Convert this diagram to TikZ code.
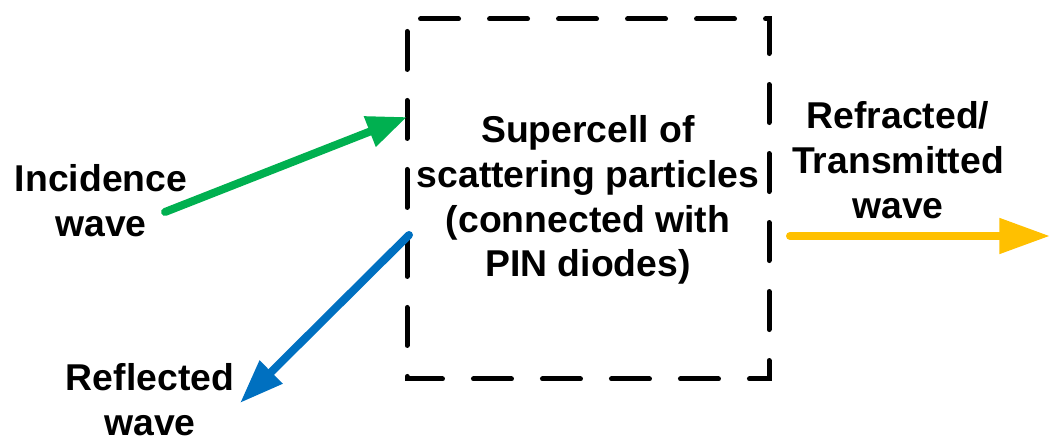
\documentclass[tikz,border=0pt]{standalone}
\usepackage{fontspec}
\setmainfont{Liberation Sans}
\usetikzlibrary{arrows.meta}
\definecolor{wgreen}{HTML}{00B050}
\definecolor{wblue}{HTML}{0070C0}
\definecolor{wgold}{HTML}{FFC000}
\begin{document}
\begin{tikzpicture}[x=0.75pt,y=-0.75pt,
  lbl/.style={font=\fontsize{28}{33.6}\selectfont\bfseries, align=center, inner sep=0pt},
  wavearrow/.style={line width=6pt, line cap=round},
  cellbox/.style={draw, line width=3.75pt, line cap=round,
    dash pattern=on 28.5pt off 23.25pt, dash phase=41.6pt}]
\useasboundingbox (0,0) rectangle (1057,441);

% dashed supercell outline, drawn clockwise from its top-left corner
\coordinate (cellNW) at (407,19);
\coordinate (cellSE) at (769,379);
\draw[cellbox] (cellNW) -- (cellSE |- cellNW) -- (cellSE) -- (cellNW |- cellSE) -- cycle;
\node[lbl] (cell) at (588,200) {Supercell of\\scattering particles\\(connected with\\PIN diodes)};

% wave labels
\node[lbl] (inc)   at (101,201) {Incidence\\wave};
\node[lbl] (refl)  at (150,400) {Reflected\\wave};
\node[lbl] (trans) at (898,160) {Refracted/\\Transmitted\\wave};

% arrow end points
\coordinate (incTail)   at (165,212);
\coordinate (incHit)    at (407,117);
\coordinate (reflStart) at (409,235);
\coordinate (reflTip)   at (240,403);
\coordinate (transTail) at (790,236);
\coordinate (transTip)  at (1050,236);

\draw[wavearrow, wgreen, -{Triangle[length=30pt,width=23pt]}] (incTail) -- (incHit);
\draw[wavearrow, wblue, -{Triangle[length=33pt,width=23pt]}] (reflStart) -- (reflTip);
\draw[wavearrow, wgold, -{Triangle[length=38pt,width=25.5pt]}] (transTail) -- (transTip);
\end{tikzpicture}
\end{document}
